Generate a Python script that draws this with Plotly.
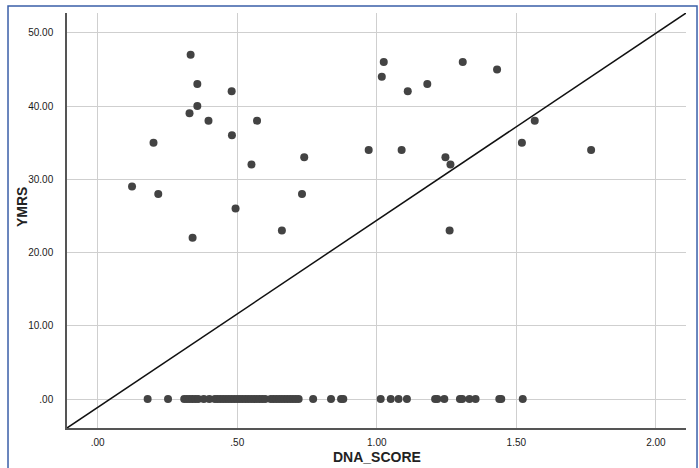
import plotly.graph_objects as go

# Upper points (DNA_SCORE, YMRS)
dna_upper = [0.333, 0.357, 0.480, 0.357, 0.329, 0.397, 0.571, 0.481, 0.200, 0.740,
             0.551, 0.123, 0.217, 0.732, 0.494, 0.660, 0.340,
             1.025, 1.018, 1.308, 1.431, 1.111, 1.181, 1.566, 1.520, 0.971,
             1.089, 1.246, 1.264, 1.261, 1.768]
ymrs_upper = [47, 43, 42, 40, 39, 38, 38, 36, 35, 33,
              32, 29, 28, 28, 26, 23, 22,
              46, 44, 46, 45, 42, 43, 38, 35, 34,
              34, 33, 32, 23, 34]

# Points at YMRS = 0
dna_zero = [0.179, 0.252, 0.31, 0.32, 0.33, 0.34, 0.35, 0.36, 0.38, 0.40, 0.42, 0.43,
            0.44, 0.45, 0.46, 0.47, 0.48, 0.49, 0.50, 0.51, 0.52, 0.53, 0.54, 0.55,
            0.56, 0.57, 0.58, 0.59, 0.60, 0.62, 0.63, 0.64, 0.65, 0.66, 0.67, 0.68,
            0.69, 0.70, 0.71, 0.72, 0.772, 0.836, 0.872, 0.880,
            1.014, 1.050, 1.078, 1.108, 1.209, 1.217, 1.242, 1.298, 1.306, 1.332,
            1.354, 1.439, 1.446, 1.523]
ymrs_zero = [0] * len(dna_zero)

x_range = [-0.11, 2.108]
y_range = [-3.96, 52.7]

x_ticks = [0, 0.5, 1.0, 1.5, 2.0]
x_ticktext = [".00", ".50", "1.00", "1.50", "2.00"]
y_ticks = [0, 10, 20, 30, 40, 50]
y_ticktext = [".00", "10.00", "20.00", "30.00", "40.00", "50.00"]

fig = go.Figure()

# reference line corner to corner
fig.add_trace(go.Scatter(x=x_range, y=y_range, mode="lines",
                         line=dict(color="#111111", width=1.5),
                         hoverinfo="skip", showlegend=False))

fig.add_trace(go.Scatter(x=dna_upper + dna_zero, y=ymrs_upper + ymrs_zero,
                         mode="markers",
                         marker=dict(size=8, color="#434343"),
                         showlegend=False))

font_family = "Liberation Sans, Arial, sans-serif"

fig.update_layout(
    width=699, height=468,
    margin=dict(l=67, r=13, t=13, b=40, autoexpand=False),
    paper_bgcolor="white", plot_bgcolor="white",
    font=dict(family=font_family, color="#222222"),
    showlegend=False,
    xaxis=dict(range=x_range, tickvals=x_ticks, ticktext=x_ticktext,
               showgrid=True, gridcolor="#cfcfcf", gridwidth=1,
               zeroline=False, showline=True, linecolor="#555555", linewidth=1.5,
               ticks="", ticklabelstandoff=4, automargin=False,
               tickfont=dict(size=10, color="#1a1a1a")),
    yaxis=dict(range=y_range, tickvals=y_ticks, ticktext=y_ticktext,
               showgrid=True, gridcolor="#cfcfcf", gridwidth=1,
               zeroline=False, showline=True, linecolor="#555555", linewidth=1.5,
               ticks="", ticklabelstandoff=10, automargin=False,
               tickfont=dict(size=10, color="#1a1a1a")),
    annotations=[
        dict(text="<b>DNA_SCORE</b>", xref="paper", yref="paper", x=0.5008, y=-0.0699,
             showarrow=False, font=dict(size=14, color="#222222"),
             xanchor="center", yanchor="middle"),
        dict(text="<b>YMRS</b>", xref="paper", yref="paper", x=-0.0727, y=0.5325,
             showarrow=False, font=dict(size=14, color="#222222"), textangle=-90,
             xanchor="center", yanchor="middle"),
    ],
    shapes=[dict(type="rect", xref="paper", yref="paper",
                 x0=-0.0953, x1=1.0178, y0=-0.12, y1=1.0169,
                 line=dict(color="#3a5fa8", width=1.5), layer="below")],
)

fig.write_html("out.html", config={"displayModeBar": False},
               post_script="document.body.style.margin='0';document.body.style.overflow='hidden';")
